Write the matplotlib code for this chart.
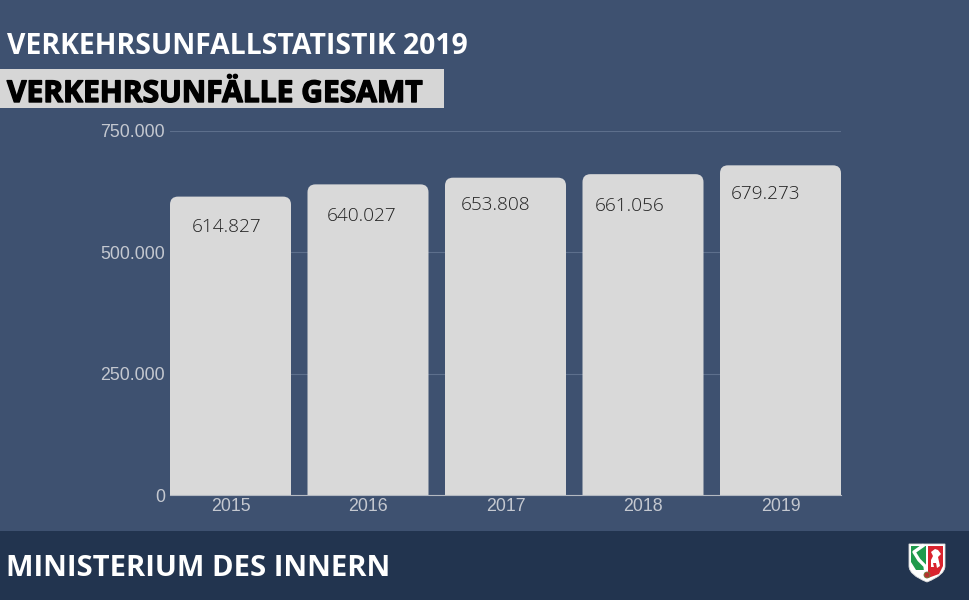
import matplotlib
matplotlib.use('Agg')
import matplotlib.pyplot as plt
import matplotlib.patheffects as pe
from matplotlib.patches import PathPatch, Rectangle, Polygon, Circle
from matplotlib.path import Path

years = ['2015', '2016', '2017', '2018', '2019']
unfaelle = [614827, 640027, 653808, 661056, 679273]
value_labels = ['614.827', '640.027', '653.808', '661.056', '679.273']
y_ticks = [0, 250000, 500000, 750000]
y_labels = ['0', '250.000', '500.000', '750.000']

# label position relative to the bar centre / top, in points (they are not centred in the original)
label_dx = [-3, -4.5, -7.5, -9.5, -11]
label_dy = [-22, -23, -20, -23, -21]

BG = '#3e5170'
FOOTER = '#22344f'
BAR = '#d9d9d9'
W, H = 970, 600

fig = plt.figure(figsize=(W / 100, H / 100), dpi=100, facecolor=BG)


def rounded_top_bar(x, height, width, rx, ry):
    left, right = x - width / 2, x + width / 2
    verts = [(left, 0), (left, height - ry), (left, height), (left + rx, height),
             (right - rx, height), (right, height), (right, height - ry), (right, 0), (left, 0)]
    codes = [Path.MOVETO, Path.LINETO, Path.CURVE3, Path.CURVE3,
             Path.LINETO, Path.CURVE3, Path.CURVE3, Path.LINETO, Path.CLOSEPOLY]
    return Path(verts, codes)


# background layer in pixel coordinates: footer, banner, shield
bg = fig.add_axes([0, 0, 1, 1])
bg.set_xlim(0, W)
bg.set_ylim(H, 0)
bg.axis('off')
bg.add_patch(Rectangle((0, 531), W, 69, color=FOOTER, lw=0))
bg.add_patch(Rectangle((0, 69), 444, 39, color='#d6d6d6', lw=0))

# NRW shield, roughly
shield = Path([(909, 544), (945, 544), (945, 566), (945, 575), (927, 582), (909, 575), (909, 566), (909, 544)],
              [Path.MOVETO, Path.LINETO, Path.LINETO, Path.CURVE3, Path.CURVE3, Path.CURVE3, Path.CURVE3, Path.CLOSEPOLY])
shield_patch = PathPatch(shield, fc='white', ec='#dddddd', lw=0.6)
bg.add_patch(shield_patch)
green = Polygon([(911, 546), (926, 546), (926, 570), (916, 570), (911, 562)], color='#1f9a4c', lw=0)
bg.add_patch(green)
bg.add_patch(PathPatch(Path([(924, 545), (914, 552), (919, 560), (925, 566), (926, 574)],
                            [Path.MOVETO, Path.LINETO, Path.LINETO, Path.LINETO, Path.LINETO]),
                       fc='none', ec='white', lw=2.4, joinstyle='round'))
red = Polygon([(928, 546), (943, 546), (943, 566), (939, 574), (928, 578)], color='#d9232e', lw=0)
bg.add_patch(red)
bg.add_patch(Polygon([(931, 552), (935, 549), (938, 550), (941, 554), (938, 557), (940, 566), (937, 568),
                      (936, 563), (933, 563), (934, 567), (931, 567), (931, 560), (933, 556)], color='white', lw=0))
bg.add_patch(Circle((927, 575), 3, fc='#b5332e', ec='#6b7f3a', lw=0.6))

# chart
ax = fig.add_axes([170 / W, 1 - 495 / H, 671 / W, 364 / H], facecolor='none')
ax.set_xlim(-0.44, 4.44)
ax.set_ylim(0, 750000)
rx = 8 / 137.5
ry = 8 * 750000 / 364
for i, v in enumerate(unfaelle):
    ax.add_patch(PathPatch(rounded_top_bar(i, v, 0.88, rx, ry), fc=BAR, ec='none', zorder=3))
    ax.annotate(value_labels[i], (i, v), xytext=(label_dx[i], label_dy[i]), textcoords='offset points',
                ha='center', va='center', fontsize=13.7, color='#222222', family='Open Sans',
                fontweight='light', zorder=4)

ax.set_yticks(y_ticks)
ax.set_yticklabels(y_labels)
ax.set_xticks(range(len(years)))
ax.set_xticklabels(years)
ax.grid(axis='y', color='#5d6f8c', lw=0.8, zorder=1)
ax.tick_params(length=0, labelsize=12.8, labelcolor='#c4c8d0', pad=3.5)
ax.tick_params(axis='x', pad=2)
for lab in ax.get_xticklabels() + ax.get_yticklabels():
    lab.set_family('Liberation Sans')
for s in ['top', 'right', 'left']:
    ax.spines[s].set_visible(False)
ax.spines['bottom'].set_color('#b4b9c2')
ax.spines['bottom'].set_zorder(5)

# headings
fig.text(7 / W, 1 - 46 / H, 'VERKEHRSUNFALLSTATISTIK 2019', color='white', fontsize=20.4,
         fontweight='bold', family='Open Sans', va='center', ha='left')
fig.text(7 / W, 1 - 94 / H, 'VERKEHRSUNFÄLLE GESAMT', color='black', fontsize=21.6,
         fontweight='bold', family='Open Sans', va='center', ha='left',
         path_effects=[pe.withStroke(linewidth=1.0, foreground='black')])
fig.text(6 / W, 1 - 568 / H, 'MINISTERIUM DES INNERN', color='white', fontsize=21,
         fontweight='bold', family='Open Sans', va='center', ha='left')

fig.savefig('out.png', dpi=100, facecolor=BG)
